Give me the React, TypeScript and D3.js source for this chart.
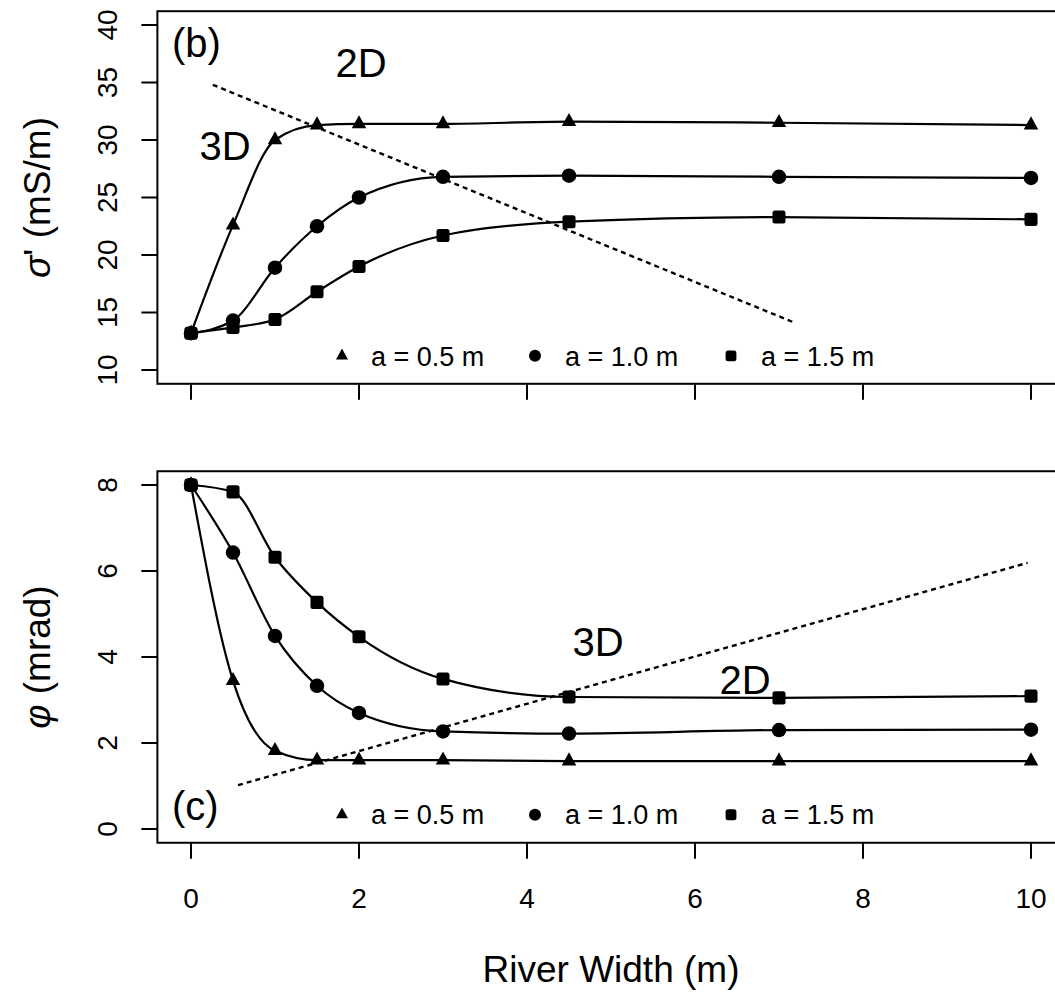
import React from "react";
import * as d3 from "d3";

// ---------- data ----------
const riverWidth = [0, 0.5, 1, 1.5, 2, 3, 4.5, 7, 10];
const sigmaA05 = [13.2, 22.6, 30.0, 31.3, 31.4, 31.4, 31.6, 31.5, 31.3];
const sigmaA10 = [13.2, 14.3, 18.9, 22.5, 25.0, 26.8, 26.9, 26.8, 26.7];
const sigmaA15 = [13.2, 13.7, 14.4, 16.8, 19.0, 21.7, 22.9, 23.3, 23.1];
const phiA05 = [8.0, 3.45, 1.82, 1.6, 1.6, 1.6, 1.58, 1.58, 1.58];
const phiA10 = [8.0, 6.43, 4.49, 3.33, 2.7, 2.27, 2.22, 2.3, 2.31];
const phiA15 = [8.0, 7.84, 6.32, 5.27, 4.47, 3.49, 3.07, 3.05, 3.09];

const sigmaDividerX = [0.26, 7.19];
const sigmaDividerY = [34.8, 14.1];
const phiDividerX = [0.56, 9.96];
const phiDividerY = [1.02, 6.19];

const seriesLabels = ["a = 0.5 m", "a = 1.0 m", "a = 1.5 m"];
const seriesShapes = ["triangle", "circle", "square"];
const xTicks = [0, 2, 4, 6, 8, 10];
const sigmaTicks = [10, 15, 20, 25, 30, 35, 40];
const phiTicks = [0, 2, 4, 6, 8];

// ---------- layout ----------
const W = 1055;
const H = 993;
const FONT = "'Liberation Sans', Arial, Helvetica, sans-serif";

const x = d3.scaleLinear().domain([0, 10]).range([191, 1031]);
const ySig = d3.scaleLinear().domain([10, 40]).range([370, 25]);
const yPhi = d3.scaleLinear().domain([0, 8]).range([829, 485]);

function Marker({ shape, cx, cy, s }: { shape: string; cx: number; cy: number; s: number }) {
  if (shape === "triangle") {
    const h = s * 0.9;
    const p = `M${cx},${cy - (h * 2) / 3}L${cx + s / 2},${cy + h / 3}L${cx - s / 2},${cy + h / 3}Z`;
    return <path d={p} fill="#000" />;
  }
  if (shape === "circle") return <circle cx={cx} cy={cy} r={s / 2} fill="#000" />;
  const q = s * 0.9;
  return <rect x={cx - q / 2} y={cy - q / 2} width={q} height={q} rx={2.5} fill="#000" />;
}

function Panel({
  y,
  lo,
  hi,
  series,
  ticks,
  divX,
  divY,
  showXLabels,
  tag,
  tagY,
  labels3D,
  labels2D,
  yTitle,
}: any) {
  const pad = (hi - lo) * 0.04;
  const x0 = x(-0.4);
  const x1 = x(10.4);
  const yTop = y(hi + pad);
  const yBot = y(lo - pad);
  const line = d3
    .line<number>()
    .x((_, i) => x(riverWidth[i]))
    .y((d) => y(d))
    .curve(d3.curveMonotoneX);
  const legendY = yBot - 28;
  const legendMarkX = [342, 535, 731];
  const legendTextX = [371, 565, 761];
  return (
    <g>
      {series.map((vals: number[], k: number) => (
        <path key={"l" + k} d={line(vals) || ""} fill="none" stroke="#000" strokeWidth={2.2} />
      ))}
      {series.map((vals: number[], k: number) =>
        vals.map((v, i) => (
          <Marker key={`m${k}-${i}`} shape={seriesShapes[k]} cx={x(riverWidth[i])} cy={y(v)} s={14.5} />
        ))
      )}
      <line
        x1={x(divX[0])}
        y1={y(divY[0])}
        x2={x(divX[1])}
        y2={y(divY[1])}
        stroke="#000"
        strokeWidth={2.4}
        strokeDasharray="5,4"
      />
      <rect x={x0} y={yTop} width={x1 - x0} height={yBot - yTop} fill="none" stroke="#000" strokeWidth={2} />
      {xTicks.map((t) => (
        <g key={"xt" + t}>
          <line x1={x(t)} x2={x(t)} y1={yBot} y2={yBot + 16} stroke="#000" strokeWidth={2} />
          {showXLabels && (
            <text x={x(t)} y={yBot + 65} textAnchor="middle" fontSize={28} fontFamily={FONT}>
              {t}
            </text>
          )}
        </g>
      ))}
      {ticks.map((t: number) => (
        <g key={"yt" + t}>
          <line x1={x0} x2={x0 - 16} y1={y(t)} y2={y(t)} stroke="#000" strokeWidth={2} />
          <text
            transform={`translate(107,${y(t)}) rotate(-90)`}
            textAnchor="middle"
            dy="0.36em"
            fontSize={28}
            fontFamily={FONT}
          >
            {t}
          </text>
        </g>
      ))}
      <text
        transform={`translate(37,${(yTop + yBot) / 2}) rotate(-90)`}
        textAnchor="middle"
        dy="0.36em"
        fontSize={37}
        fontFamily={FONT}
      >
        {yTitle}
      </text>
      <text x={172} y={tagY} fontSize={40} fontFamily={FONT}>
        {tag}
      </text>
      <text x={labels3D[0]} y={labels3D[1]} textAnchor="middle" fontSize={40} fontFamily={FONT}>
        3D
      </text>
      <text x={labels2D[0]} y={labels2D[1]} textAnchor="middle" fontSize={40} fontFamily={FONT}>
        2D
      </text>
      {seriesLabels.map((lab, k) => (
        <g key={"lg" + k}>
          <Marker shape={seriesShapes[k]} cx={legendMarkX[k]} cy={legendY} s={12} />
          <text x={legendTextX[k]} y={legendY} dy="0.36em" fontSize={27} fontFamily={FONT}>
            {lab}
          </text>
        </g>
      ))}
    </g>
  );
}

export default function App() {
  return (
    <svg width={W} height={H} style={{ position: "absolute", left: 0, top: 0, background: "#fff" }}>
      <rect width={W} height={H} fill="#fff" />
      <Panel
        y={ySig}
        lo={10}
        hi={40}
        series={[sigmaA05, sigmaA10, sigmaA15]}
        ticks={sigmaTicks}
        divX={sigmaDividerX}
        divY={sigmaDividerY}
        showXLabels={false}
        tag="(b)"
        tagY={57}
        labels3D={[225, 160]}
        labels2D={[361, 77]}
        yTitle={
          <>
            <tspan fontStyle="italic">σ</tspan>
            <tspan>' (mS/m)</tspan>
          </>
        }
      />
      <Panel
        y={yPhi}
        lo={0}
        hi={8}
        series={[phiA05, phiA10, phiA15]}
        ticks={phiTicks}
        divX={phiDividerX}
        divY={phiDividerY}
        showXLabels={true}
        tag="(c)"
        tagY={820}
        labels3D={[598, 656]}
        labels2D={[745, 694]}
        yTitle={
          <>
            <tspan fontStyle="italic">φ</tspan>
            <tspan> (mrad)</tspan>
          </>
        }
      />
      <text x={611} y={982} textAnchor="middle" fontSize={37} fontFamily={FONT}>
        River Width (m)
      </text>
    </svg>
  );
}
